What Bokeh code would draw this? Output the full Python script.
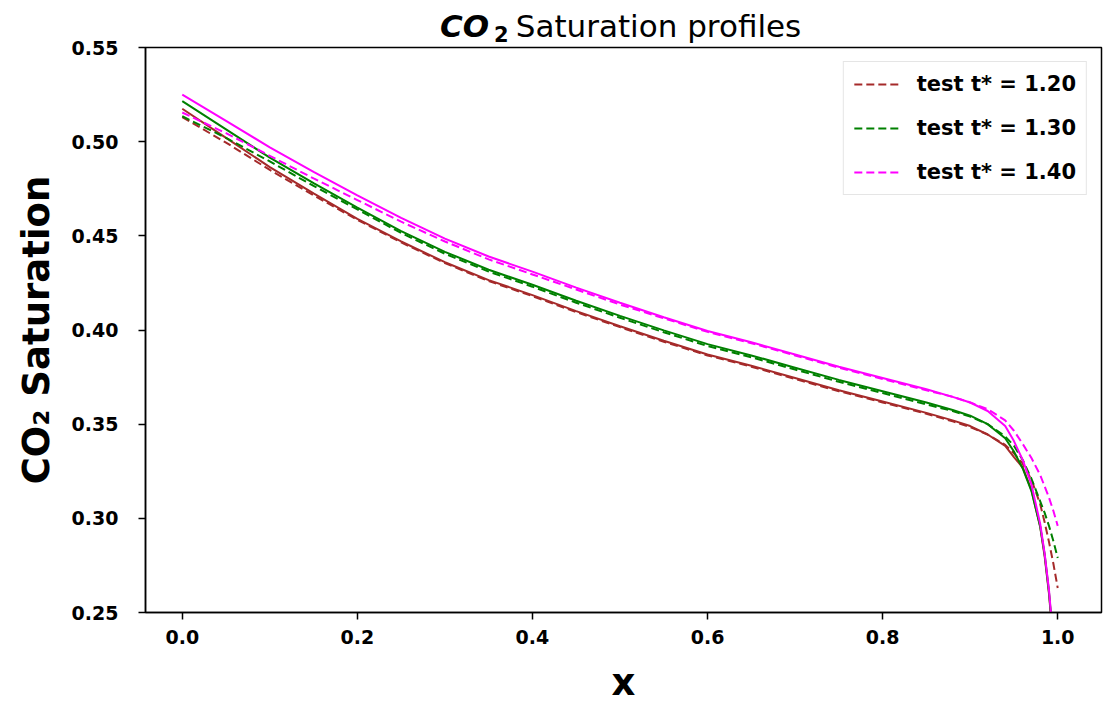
from bokeh.plotting import figure
from bokeh.models import Range1d, FixedTicker, PrintfTickFormatter, Div
from bokeh.layouts import column
from bokeh.embed import file_html
from bokeh.resources import INLINE

# ---- data ----
x_vals = [0.0, 0.05, 0.1, 0.15, 0.2, 0.25, 0.3, 0.35, 0.4, 0.45, 0.5, 0.55, 0.6, 0.65,
          0.7, 0.75, 0.8, 0.85, 0.88, 0.9, 0.92, 0.94, 0.95, 0.96, 0.97, 0.98, 0.985,
          0.99, 0.995, 1.0]

test_120 = [0.513, 0.4995, 0.485, 0.4715, 0.4585, 0.4465, 0.4355, 0.426, 0.418, 0.4095,
            0.4015, 0.3938, 0.3865, 0.3805, 0.374, 0.3675, 0.3615, 0.3555, 0.3515, 0.3485,
            0.3445, 0.339, 0.3345, 0.329, 0.3205, 0.3075, 0.298, 0.2875, 0.276, 0.263]
test_130 = [0.5135, 0.502, 0.4895, 0.4765, 0.464, 0.4515, 0.4405, 0.431, 0.423, 0.4145,
            0.4065, 0.3988, 0.3915, 0.3855, 0.379, 0.3725, 0.3665, 0.3605, 0.357, 0.354,
            0.350, 0.3435, 0.3385, 0.331, 0.321, 0.309, 0.303, 0.296, 0.288, 0.279]
test_140 = [0.5155, 0.5045, 0.4925, 0.4805, 0.469, 0.4575, 0.447, 0.4375, 0.4295, 0.4215,
            0.4135, 0.4062, 0.399, 0.393, 0.3865, 0.38, 0.374, 0.368, 0.3645, 0.3615,
            0.358, 0.352, 0.3465, 0.3395, 0.332, 0.323, 0.317, 0.311, 0.304, 0.296]

pred_120 = [0.5175, 0.502, 0.4865, 0.4725, 0.459, 0.447, 0.436, 0.4265, 0.4185, 0.41,
            0.402, 0.3943, 0.387, 0.381, 0.3745, 0.368, 0.362, 0.356, 0.352, 0.349,
            0.3445, 0.3385, 0.3325, 0.327, 0.315, 0.2955, 0.280, 0.26, 0.233, 0.18]
pred_130 = [0.5215, 0.5065, 0.4915, 0.478, 0.465, 0.4525, 0.4415, 0.432, 0.424, 0.4155,
            0.4075, 0.3998, 0.3925, 0.3865, 0.38, 0.3735, 0.3675, 0.3615, 0.3575, 0.3545,
            0.350, 0.3425, 0.3355, 0.3265, 0.3145, 0.2955, 0.281, 0.261, 0.234, 0.18]
pred_140 = [0.525, 0.511, 0.497, 0.484, 0.4715, 0.4595, 0.4485, 0.439, 0.431, 0.4225,
            0.4145, 0.4068, 0.3995, 0.3935, 0.387, 0.3805, 0.3745, 0.3685, 0.3645, 0.3615,
            0.357, 0.349, 0.341, 0.331, 0.318, 0.297, 0.2815, 0.262, 0.235, 0.18]

legend_labels = ["test t* = 1.20", "test t* = 1.30", "test t* = 1.40"]
colors = ["#a52a2a", "#008000", "#ff00ff"]
x_ticks = [0.0, 0.2, 0.4, 0.6, 0.8, 1.0]
y_ticks = [0.25, 0.30, 0.35, 0.40, 0.45, 0.50, 0.55]

FONT = "DejaVu Sans"

title_html = (
    '<div style="position:absolute; left:440px; top:11px; white-space:nowrap; '
    "font-family:'DejaVu Sans'; font-size:31px; line-height:1; color:black;\">"
    '<span style="font-weight:bold; font-style:italic;">CO</span>'
    '<span style="font-weight:bold; font-size:21px; position:relative; top:5px; '
    'margin-left:5px;">2</span>'
    '<span style="margin-left:7px;">Saturation profiles</span></div>'
)
title = Div(text=title_html, width=1104, height=36, margin=0,
            styles={"position": "relative", "overflow": "visible"})

p = figure(width=1104, height=670, output_backend="svg", toolbar_location=None,
           x_range=Range1d(-0.042, 1.05), y_range=Range1d(0.25, 0.55),
           min_border_left=145, min_border_right=3, min_border_top=11,
           min_border_bottom=92, margin=0)
p.border_fill_alpha = 0

tests = [test_120, test_130, test_140]
preds = [pred_120, pred_130, pred_140]
for t, pr, c, lab in zip(tests, preds, colors, legend_labels):
    p.line(x_vals, t, line_color=c, line_width=2, line_dash="8 4", legend_label=lab)
    p.line(x_vals, pr, line_color=c, line_width=2)

# axes
p.grid.visible = False
p.outline_line_color = "black"
p.outline_line_width = 1.5
p.outline_line_alpha = 1.0
for ax in (p.xaxis[0], p.yaxis[0]):
    ax.axis_line_width = 1.5
    ax.axis_line_color = "black"
    ax.major_tick_line_width = 1.5
    ax.major_tick_line_color = "black"
    ax.major_tick_out = 7
    ax.major_tick_in = 0
    ax.minor_tick_out = 0
    ax.minor_tick_in = 0
    ax.major_label_text_font = FONT
    ax.major_label_text_font_style = "bold"
    ax.major_label_text_font_size = "19px"
    ax.major_label_text_color = "black"
    ax.axis_label_text_font = FONT
    ax.axis_label_text_font_style = "bold"
    ax.axis_label_text_font_size = "37px"
    ax.axis_label_text_color = "black"

p.xaxis.ticker = FixedTicker(ticks=x_ticks)
p.yaxis.ticker = FixedTicker(ticks=y_ticks)
p.xaxis.formatter = PrintfTickFormatter(format="%.1f")
p.yaxis.formatter = PrintfTickFormatter(format="%.2f")
p.xaxis.major_label_standoff = 10
p.yaxis.major_label_standoff = 20
p.xaxis.axis_label = "x"
p.yaxis.axis_label = "CO₂ Saturation"
p.xaxis.axis_label_standoff = 14
p.xaxis.axis_label_text_line_height = 0.8
p.yaxis.axis_label_standoff = 11

# legend
lg = p.legend[0]
lg.location = "top_right"
lg.margin = 14
lg.padding = 10
lg.spacing = 20
lg.glyph_width = 48
lg.label_standoff = 15
lg.label_text_font = FONT
lg.label_text_font_style = "bold"
lg.label_text_font_size = "21px"
lg.label_text_color = "black"
lg.border_line_color = "#cccccc"
lg.border_line_width = 1
lg.background_fill_alpha = 0.8

layout = column(title, p, spacing=0)
open("out.html", "w").write(file_html(layout, INLINE))
